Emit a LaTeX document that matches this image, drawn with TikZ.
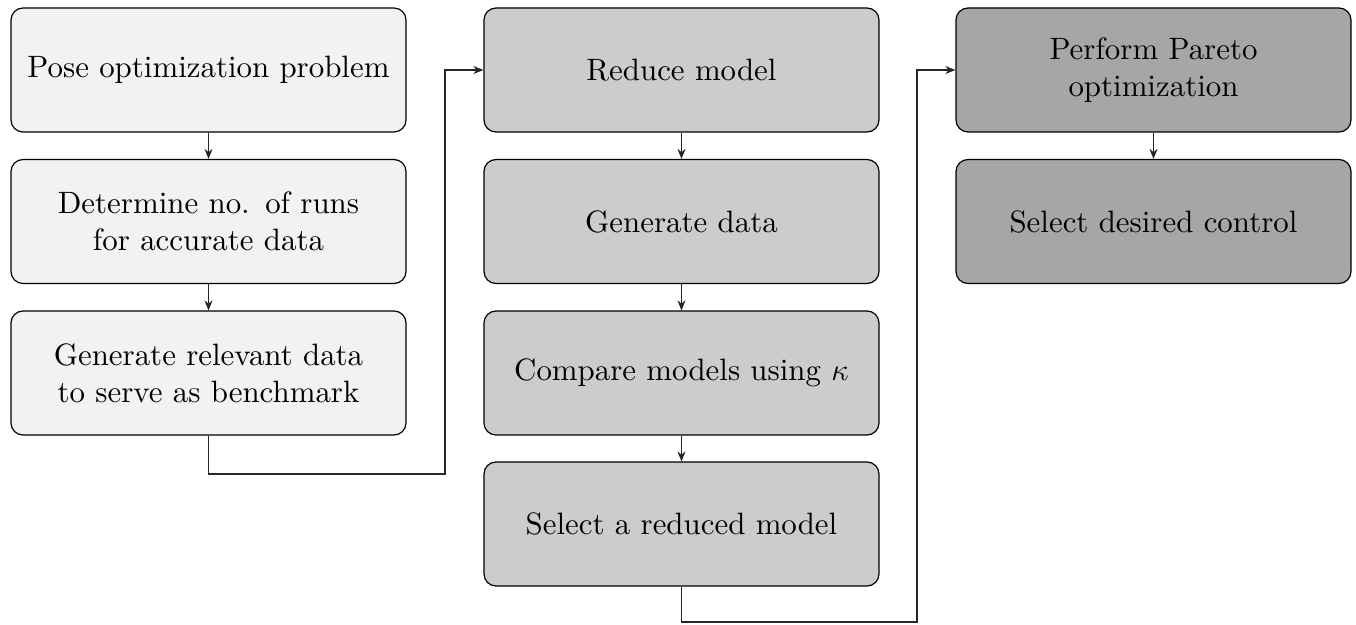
\documentclass[tikz,border=0pt]{standalone}
\usepackage{fix-cm}
\usepackage{fontspec}
\setmainfont{lmroman10-regular.otf}[BoldFont=lmroman10-bold.otf,ItalicFont=lmroman10-italic.otf]
\usetikzlibrary{arrows.meta}
\begin{document}
\begin{tikzpicture}[x=0.5pt,y=-0.5pt,
  stepbox/.style={draw=black, line width=0.6pt, rounded corners=6pt, minimum width=197.5pt, minimum height=62pt, inner sep=0pt, text width=195pt, align=center, font=\fontsize{15.45pt}{18.5pt}\selectfont},
  c1/.style={stepbox, fill=black!5},
  c2/.style={stepbox, fill=black!20},
  c3/.style={stepbox, fill=black!35},
  conn/.style={line width=0.55pt, draw=black!85, -{Stealth[length=5pt,width=4pt]}}]
\useasboundingbox (0,0) rectangle (1356,625);
\node[c1] (a1) at (208.5,70) {Pose optimization problem};
\node[c1] (a2) at (208.5,221.5) {Determine no. of runs\\for accurate data};
\node[c1] (a3) at (208.5,373) {Generate relevant data\\to serve as benchmark};
\node[c2] (b1) at (681.5,70) {Reduce model};
\node[c2] (b2) at (681.5,221.5) {Generate data};
\node[c2] (b3) at (681.5,373) {Compare models using $\kappa$};
\node[c2] (b4) at (681.5,524) {Select a reduced model};
\node[c3] (d1) at (1153.5,70) {Perform Pareto\\optimization};
\node[c3] (d2) at (1153.5,221.5) {Select desired control};
\coordinate (k1) at (445,474);
\coordinate (k2) at (917,622);
\draw[conn] (a1) -- (a2);
\draw[conn] (a2) -- (a3);
\draw[conn] (b1) -- (b2);
\draw[conn] (b2) -- (b3);
\draw[conn] (b3) -- (b4);
\draw[conn] (d1) -- (d2);
\draw[conn] (a3.south) |- (k1) |- (b1.west);
\draw[conn] (b4.south) |- (k2) |- (d1.west);
\end{tikzpicture}
\end{document}
